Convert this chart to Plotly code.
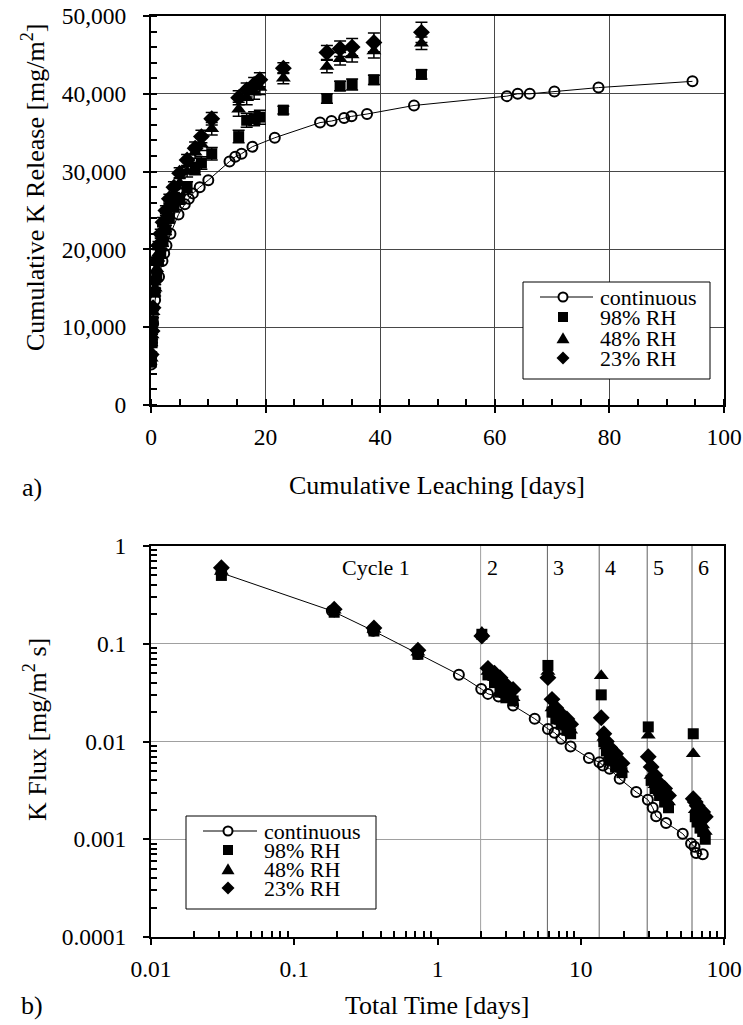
import math
import plotly.graph_objects as go

W, H = 743, 1025
FONT = "Liberation Serif"

# ---------------- panel a) cumulative K release ----------------
cont_days = [0.03, 0.19, 0.36, 0.72, 1.4, 2.0, 2.3, 2.7, 3.4, 4.8, 5.9, 6.6, 7.3, 8.5, 10.0,
             13.7, 14.7, 15.8, 17.7, 21.6, 29.5, 31.5, 33.7, 35.0, 37.7, 45.9,
             62.1, 64.0, 66.1, 70.4, 78.1, 94.5]
cont_release = [5200, 8000, 10500, 13500, 16500, 18500, 19500, 20500, 22000, 24500, 25800, 26500,
                27200, 28000, 28900, 31300, 31900, 32300, 33200, 34350, 36300, 36500, 36900,
                37100, 37400, 38500, 39700, 40000, 40000, 40300, 40800, 41600]

rh_days = [0.03, 0.19, 0.36, 0.72, 1.0, 1.3, 1.7, 2.1, 2.6, 3.2, 4.0, 5.0, 6.3, 7.7, 8.8, 10.6,
           15.3, 16.7, 18.0, 19.0, 23.1, 30.7, 33.0, 35.1, 38.9, 47.2]
rh98_release = [5500, 8000, 10800, 14500, 16500, 18500, 19500, 21000, 22500, 24000, 25500, 26500,
                28000, 30400, 31100, 32300, 34500, 36600, 36800, 37000, 37900, 39400, 41000,
                41200, 41800, 42500]
rh98_err = [300, 400, 400, 500, 500, 500, 600, 600, 600, 600, 700, 700, 700, 800, 800, 800,
            800, 900, 900, 900, 500, 600, 600, 700, 600, 600]
rh48_release = [6000, 9000, 12000, 15000, 17500, 19500, 21000, 22500, 24000, 25500, 27000, 28500,
                30000, 32500, 33500, 35500, 38000, 39500, 40200, 40800, 42000, 43500, 44500,
                45000, 45500, 46500]
rh48_err = [300, 400, 400, 500, 500, 500, 600, 600, 600, 600, 700, 700, 700, 800, 800, 800,
            900, 900, 900, 900, 700, 800, 800, 900, 900, 800]
rh23_release = [6500, 9500, 12500, 16000, 18500, 20500, 22000, 23500, 25000, 26500, 28000, 29800,
                31500, 33000, 34500, 36800, 39500, 40500, 41200, 41800, 43300, 45300, 45800,
                46000, 46600, 47900]
rh23_err = [300, 400, 400, 500, 500, 500, 600, 600, 600, 600, 700, 700, 700, 800, 800, 800,
            900, 900, 900, 900, 700, 900, 1000, 1100, 1200, 1300]

# ---------------- panel b) K flux vs total time ----------------
cont_time = [0.031, 0.183, 0.355, 0.73, 1.41, 2.02, 2.25, 2.67, 3.37, 4.77, 5.9, 6.56, 7.31, 8.49,
             11.4, 13.5, 14.3, 15.9, 18.7, 24.4, 29.4, 31.8, 33.6, 39.4, 51.5, 58.9, 62.2, 63.9, 71.1]
cont_flux = [0.53, 0.217, 0.136, 0.0785, 0.0483, 0.0345, 0.0307, 0.0288, 0.0233, 0.0171, 0.01346,
             0.0123, 0.01064, 0.0089, 0.00676, 0.00615, 0.00569, 0.00526, 0.00416, 0.00304,
             0.00254, 0.0021, 0.00172, 0.00147, 0.00114, 0.000904, 0.000836, 0.000725, 0.000703]

rh_time = [0.031, 0.19, 0.36, 0.73,
           2.04, 2.25, 2.5, 2.73, 3.0, 3.37,
           5.9, 6.3, 6.7, 7.3, 8.0, 8.5,
           13.9, 14.5, 15.1, 15.9, 17.5, 19.4,
           29.6, 31.0, 33.0, 35.5, 38.5, 41.0,
           61.0, 63.0, 65.0, 68.0, 71.0, 74.0]
rh98_flux = [0.50, 0.21, 0.135, 0.078,
             0.125, 0.048, 0.040, 0.032, 0.028, 0.026,
             0.060, 0.020, 0.017, 0.015, 0.013, 0.012,
             0.030, 0.010, 0.008, 0.0065, 0.0055, 0.0048,
             0.0141, 0.0040, 0.0033, 0.0028, 0.0024, 0.0021,
             0.0120, 0.0017, 0.0015, 0.0013, 0.0012, 0.0010]
rh48_flux = [0.55, 0.22, 0.14, 0.082,
             0.130, 0.052, 0.045, 0.038, 0.030, 0.028,
             0.052, 0.022, 0.019, 0.016, 0.014, 0.013,
             0.047, 0.011, 0.009, 0.0072, 0.0060, 0.0052,
             0.0116, 0.0045, 0.0036, 0.0030, 0.0027, 0.0024,
             0.0075, 0.0020, 0.0017, 0.0015, 0.0014, 0.0012]
rh23_flux = [0.60, 0.225, 0.145, 0.086,
             0.120, 0.056, 0.050, 0.045, 0.038, 0.034,
             0.045, 0.027, 0.022, 0.019, 0.017, 0.015,
             0.0175, 0.012, 0.010, 0.0087, 0.0075, 0.0060,
             0.0070, 0.0055, 0.0045, 0.0037, 0.0033, 0.0028,
             0.0026, 0.0024, 0.0022, 0.0020, 0.0019, 0.0017]

cycle_starts = [2.0, 5.85, 13.45, 29.1, 59.8]
cycle_labels = ["2", "3", "4", "5", "6"]

flux_ticks = [0.0001, 0.001, 0.01, 0.1, 1]
flux_ticktext = ["0.0001", "0.001", "0.01", "0.1", "1"]
time_ticks = [0.01, 0.1, 1, 10, 100]
time_ticktext = ["0.01", "0.1", "1", "10", "100"]

series_labels = ["continuous", "98% RH", "48% RH", "23% RH"]


def fx(px):
    return px / W


def fy(py):
    return 1 - py / H


fig = go.Figure()

circle = dict(symbol="circle-open", size=10, color="black", line=dict(width=2, color="black"))
square = dict(symbol="square", size=11, color="black")
triangle = dict(symbol="triangle-up", size=13, color="black")
diamond = dict(symbol="diamond", size=13, color="black")
err_style = dict(type="data", visible=True, color="black", thickness=1.5, width=6)

# panel a traces
fig.add_trace(go.Scatter(x=cont_days, y=cont_release, mode="lines+markers", marker=circle,
                         line=dict(color="black", width=1), xaxis="x", yaxis="y", showlegend=False))
fig.add_trace(go.Scatter(x=rh_days, y=rh98_release, mode="markers", marker=square,
                         error_y=dict(array=rh98_err, **err_style), xaxis="x", yaxis="y", showlegend=False))
fig.add_trace(go.Scatter(x=rh_days, y=rh48_release, mode="markers", marker=triangle,
                         error_y=dict(array=rh48_err, **err_style), xaxis="x", yaxis="y", showlegend=False))
fig.add_trace(go.Scatter(x=rh_days, y=rh23_release, mode="markers", marker=diamond,
                         error_y=dict(array=rh23_err, **err_style), xaxis="x", yaxis="y", showlegend=False))

# panel b: cycle boundaries (first one drawn lighter)
for i, c in enumerate(cycle_starts):
    fig.add_trace(go.Scatter(x=[c, c], y=[flux_ticks[0], flux_ticks[-1]], mode="lines",
                             line=dict(color="#a0a0a0" if i == 0 else "#606060", width=1),
                             xaxis="x2", yaxis="y2", showlegend=False, hoverinfo="skip"))

fig.add_trace(go.Scatter(x=cont_time, y=cont_flux, mode="lines+markers", marker=circle,
                         line=dict(color="black", width=1), xaxis="x2", yaxis="y2", showlegend=False))
fig.add_trace(go.Scatter(x=rh_time, y=rh98_flux, mode="markers", marker=square,
                         xaxis="x2", yaxis="y2", showlegend=False))
fig.add_trace(go.Scatter(x=rh_time, y=rh48_flux, mode="markers", marker=triangle,
                         xaxis="x2", yaxis="y2", showlegend=False))
fig.add_trace(go.Scatter(x=rh_time, y=rh23_flux, mode="markers", marker=diamond,
                         xaxis="x2", yaxis="y2", showlegend=False))

tickfont = dict(family=FONT, size=23.5, color="black")
axis_common = dict(showline=True, linewidth=2, linecolor="black", mirror=True,
                   ticks="outside", ticklen=6, tickwidth=2, tickcolor="black",
                   tickfont=tickfont, zeroline=False, automargin=False)
minor_common = dict(ticks="inside", ticklen=6, tickwidth=2, tickcolor="black", showgrid=False)

x_dom = [fx(151), fx(724)]
fig.update_layout(
    xaxis=dict(domain=x_dom, range=[0, 100], tick0=0, dtick=20, anchor="y",
               showgrid=True, gridcolor="#474747", gridwidth=1, ticklabelstandoff=4,
               minor=dict(dtick=5, **minor_common), **axis_common),
    yaxis=dict(domain=[fy(405), fy(16)], range=[0, 50000], tick0=0, dtick=10000, anchor="x",
               tickformat=",", showgrid=True, gridcolor="#474747", gridwidth=1, ticklabelstandoff=12,
               minor=dict(dtick=2000, **minor_common), **axis_common),
    xaxis2=dict(domain=x_dom, type="log", range=[-2, 2], anchor="y2",
                tickmode="array", tickvals=time_ticks, ticktext=time_ticktext,
                showgrid=False, ticklabelstandoff=4,
                minor=dict(tickvals=[k * 10 ** e for e in range(-2, 2) for k in range(2, 10)],
                           **minor_common), **axis_common),
    yaxis2=dict(domain=[fy(937), fy(546)], type="log", range=[-4, 0], anchor="x2",
                tickmode="array", tickvals=flux_ticks, ticktext=flux_ticktext,
                showgrid=True, gridcolor="#a0a0a0", gridwidth=1, ticklabelstandoff=12,
                minor=dict(tickvals=[k * 10 ** e for e in range(-4, 0) for k in range(2, 10)],
                           **minor_common), **axis_common),
    width=W, height=H, autosize=False,
    margin=dict(l=0, r=0, t=0, b=0, pad=0, autoexpand=False),
    paper_bgcolor="white", plot_bgcolor="white",
    showlegend=False,
)

annotations = []
shapes = []


def text(x, y, s, size, angle=0, xanchor="center", xref="paper", xshift=0):
    annotations.append(dict(x=x, y=y, xref=xref, yref="paper", text=s, showarrow=False,
                            textangle=angle, xanchor=xanchor, yanchor="middle", xshift=xshift,
                            font=dict(family=FONT, size=size, color="black")))


# axis titles and panel tags
text(fx(34), fy(187), "Cumulative K Release [mg/m<sup>2</sup>]", 26, angle=-90)
text(fx(437), fy(485), "Cumulative Leaching [days]", 26)
text(fx(32), fy(487), "a)", 26)
text(fx(35), fy(730), "K Flux [mg/m<sup>2</sup> s]", 26, angle=-90)
text(fx(437), fy(1005), "Total Time [days]", 26)
text(fx(32), fy(1005), "b)", 26)

# cycle labels
text(fx(376), fy(567), "Cycle 1", 22)
for c, lab in zip(cycle_starts, cycle_labels):
    annotations.append(dict(x=math.log10(c), y=fy(567), xref="x2", yref="paper", text=lab,
                            showarrow=False, xanchor="left", yanchor="middle", xshift=4,
                            font=dict(family=FONT, size=22, color="black")))


def legend_box(x0, x1, y0, y1, mx, lx0, lx1, tx, rows):
    shapes.append(dict(type="rect", xref="paper", yref="paper", x0=fx(x0), x1=fx(x1),
                       y0=fy(y1), y1=fy(y0), line=dict(color="black", width=1),
                       fillcolor="white", layer="above"))
    r0, r1, r2, r3 = rows
    # continuous: line with open circle
    shapes.append(dict(type="line", xref="paper", yref="paper", x0=fx(lx0), x1=fx(lx1),
                       y0=fy(r0), y1=fy(r0), line=dict(color="black", width=1)))
    rc = 4.5
    shapes.append(dict(type="circle", xref="paper", yref="paper", x0=fx(mx - rc), x1=fx(mx + rc),
                       y0=fy(r0 + rc), y1=fy(r0 - rc), line=dict(color="black", width=2),
                       fillcolor="white"))
    s = 5
    shapes.append(dict(type="rect", xref="paper", yref="paper", x0=fx(mx - s), x1=fx(mx + s),
                       y0=fy(r1 + s), y1=fy(r1 - s), line=dict(color="black", width=0),
                       fillcolor="black"))
    t = 6.5
    shapes.append(dict(type="path", xref="paper", yref="paper",
                       path=f"M {fx(mx - t)},{fy(r2 + t * 0.8)} L {fx(mx + t)},{fy(r2 + t * 0.8)} "
                            f"L {fx(mx)},{fy(r2 - t * 0.9)} Z",
                       line=dict(color="black", width=0), fillcolor="black"))
    d = 6.5
    shapes.append(dict(type="path", xref="paper", yref="paper",
                       path=f"M {fx(mx)},{fy(r3 - d)} L {fx(mx + d)},{fy(r3)} "
                            f"L {fx(mx)},{fy(r3 + d)} L {fx(mx - d)},{fy(r3)} Z",
                       line=dict(color="black", width=0), fillcolor="black"))
    for r, lab in zip(rows, series_labels):
        text(fx(tx), fy(r), lab, 22, xanchor="left")


legend_box(523, 710, 282, 379, 563, 540, 593, 598, [297, 317, 338, 358])
legend_box(186, 376, 816, 909, 228, 203, 257, 262, [831, 850, 869, 888])

fig.update_layout(annotations=annotations, shapes=shapes)
fig.write_html("out.html")
